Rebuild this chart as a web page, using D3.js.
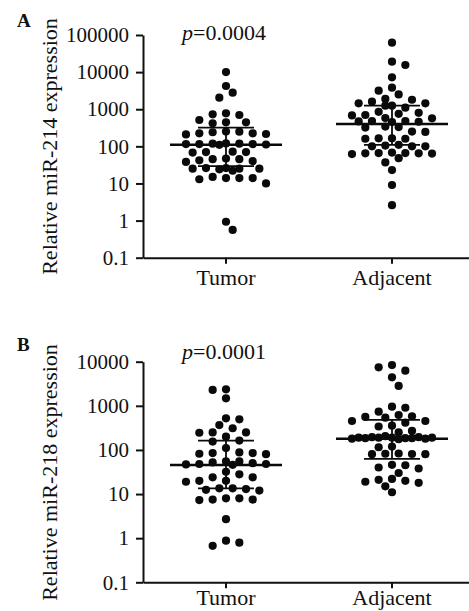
<!DOCTYPE html>
<html>
<head>
<meta charset="utf-8">
<script src="https://cdn.jsdelivr.net/npm/d3@7/dist/d3.min.js"></script>
<style>
  html, body { margin: 0; padding: 0; background: #fff; }
  svg { display: block; }
  text { font-family: "Liberation Serif", "Times New Roman", serif; fill: #111; }
</style>
</head>
<body>
<svg id="chart" width="469" height="611"></svg>
<script>
// ---------------- data ----------------
const categories = ["Tumor", "Adjacent"];

const tumorA = [10000, 4230, 2790, 2050, 778, 731, 700, 513, 445, 445, 418,
  250, 240, 225, 215, 210, 225, 248, 120, 118, 115, 115, 112, 115, 110, 118,
  72, 70, 68, 70, 45, 47, 42, 45, 40, 38, 26, 25, 25, 24, 25, 26, 22,
  14, 15, 14, 13, 14, 10, 0.93, 0.56];
const adjacentA = [62000, 19100, 15550, 7250, 3800, 3160, 2500, 1900, 1800, 1600,
  1440, 1440, 1250, 1250, 1100, 850, 800, 750, 700, 680, 580, 570, 480, 480,
  470, 460, 450, 340, 330, 320, 250, 245, 165, 165, 160, 160, 110, 105, 100,
  100, 100, 68, 66, 65, 65, 64, 62, 66, 48, 37, 23, 9.1, 2.6];

const tumorB = [2370, 2290, 1480, 520, 495, 367, 310, 250, 245, 250, 200, 155,
  163, 110, 88, 85, 82, 80, 85, 55, 52, 48, 50, 47, 48, 46, 55, 32, 24, 20,
  19, 20, 24, 28, 13.5, 13, 12.5, 13.5, 12, 8, 7.5, 7.3, 7.5, 8, 2.7, 0.88,
  0.79, 0.67];
const adjacentB = [8400, 7470, 6250, 4430, 2820, 955, 905, 735, 620, 580, 540,
  560, 453, 453, 415, 355, 340, 270, 250, 205, 195, 190, 190, 185, 180, 190,
  175, 185, 195, 180, 190, 185, 119, 115, 83, 82, 80, 81, 80, 46, 45, 40, 38,
  30, 21, 22, 20, 19, 18, 15, 11];

const mediansA = [110, 400];
const q1A = [29.5, 109];
const q3A = [318, 1250];
const mediansB = [45.6, 180];
const q1B = [13.5, 63];
const q3B = [162, 480];

const tickValuesA = [0.1, 1, 10, 100, 1000, 10000, 100000];
const tickLabelsA = ["0.1", "1", "10", "100", "1000", "10000", "100000"];
const tickValuesB = [0.1, 1, 10, 100, 1000, 10000];
const tickLabelsB = ["0.1", "1", "10", "100", "1000", "10000"];

const panelLetters = ["A", "B"];
const yTitles = ["Relative miR-214 expression", "Relative miR-218 expression"];
const pValues = ["0.0004", "0.0001"];

// ---------------- layout ----------------
const svg = d3.select("#chart");
const panels = [
  { letter: panelLetters[0], title: yTitles[0], p: pValues[0],
    series: [tumorA, adjacentA], med: mediansA, q1: q1A, q3: q3A,
    ticks: tickValuesA, labels: tickLabelsA,
    top: 35, bottom: 257.7, letterY: 27, pY: 40, labelY: 285, titleY: 146.5 },
  { letter: panelLetters[1], title: yTitles[1], p: pValues[1],
    series: [tumorB, adjacentB], med: mediansB, q1: q1B, q3: q3B,
    ticks: tickValuesB, labels: tickLabelsB,
    top: 361.7, bottom: 582.3, letterY: 351, pY: 359, labelY: 605, titleY: 472.5 }
];

const axisX = 143;
const x = d3.scaleBand().domain(categories).range([axisX, 475]).padding(0);
const R = 4.1;

function swarm(values, y, cx) {
  const pts = values.map(v => ({ v, y: y(v) })).sort((a, b) => a.y - b.y);
  const placed = [];
  const h = 6.67, maxK = 6;
  const thresholds = [8.9, 6.6, 4.5, 0];
  pts.forEach((p, i) => {
    const sign = i % 2 === 0 ? 1 : -1;
    let found = null;
    for (const minD of thresholds) {
      for (let k = 0; k <= maxK && found === null; k++) {
        const cands = k === 0 ? [0] : [sign * k * h, -sign * k * h];
        for (const off of cands) {
          const coll = placed.some(q => Math.hypot(q.off - off, q.y - p.y) < minD);
          if (!coll) { found = off; break; }
        }
      }
      if (found !== null) break;
    }
    p.off = found === null ? 0 : found;
    placed.push(p);
  });
  return pts.map(p => ({ x: cx + p.off, y: p.y }));
}

panels.forEach(P => {
  const g = svg.append("g");
  const y = d3.scaleLog().domain([0.1, P.ticks[P.ticks.length - 1]]).range([P.bottom, P.top]);

  // y axis
  const yAxis = d3.axisLeft(y).tickValues(P.ticks)
    .tickFormat((d, i) => P.labels[i]).tickSize(7).tickSizeOuter(0).tickPadding(7);
  const ya = g.append("g").attr("transform", `translate(${axisX},0)`).call(yAxis);
  ya.selectAll("path, line").attr("stroke", "#111").attr("stroke-width", 2);
  ya.selectAll("text").attr("font-size", 21).attr("fill", "#111")
    .attr("font-family", "Liberation Serif, serif");

  // x axis
  const xAxis = d3.axisBottom(x).tickSize(6).tickSizeOuter(0).tickPadding(9);
  const xa = g.append("g").attr("transform", `translate(0,${P.bottom})`).call(xAxis);
  xa.selectAll("path, line").attr("stroke", "#111").attr("stroke-width", 2);
  xa.selectAll("text").remove();
  categories.forEach(c => {
    g.append("text").attr("x", x(c) + x.bandwidth() / 2).attr("y", P.labelY)
      .attr("text-anchor", "middle").attr("font-size", 22).text(c);
  });

  // dots
  P.series.forEach((vals, ci) => {
    const cx = x(categories[ci]) + x.bandwidth() / 2;
    const pts = swarm(vals, y, cx);
    g.append("g").selectAll("circle").data(pts).join("circle")
      .attr("cx", d => d.x).attr("cy", d => d.y).attr("r", R).attr("fill", "#0a0a0a");

    // median and IQR
    const m = y(P.med[ci]), lo = y(P.q1[ci]), hi = y(P.q3[ci]);
    g.append("line").attr("x1", cx - 56).attr("x2", cx + 56).attr("y1", m).attr("y2", m)
      .attr("stroke", "#0a0a0a").attr("stroke-width", 2.4);
    g.append("line").attr("x1", cx - 28).attr("x2", cx + 28).attr("y1", hi).attr("y2", hi)
      .attr("stroke", "#0a0a0a").attr("stroke-width", 1.8);
    g.append("line").attr("x1", cx - 28).attr("x2", cx + 28).attr("y1", lo).attr("y2", lo)
      .attr("stroke", "#0a0a0a").attr("stroke-width", 1.8);
    g.append("line").attr("x1", cx).attr("x2", cx).attr("y1", hi).attr("y2", lo)
      .attr("stroke", "#0a0a0a").attr("stroke-width", 1.8);
  });

  // p-value
  const pt = g.append("text").attr("x", x(categories[0]) + x.bandwidth() / 2 - 2)
    .attr("y", P.pY).attr("text-anchor", "middle").attr("font-size", 22);
  pt.append("tspan").attr("font-style", "italic").text("p");
  pt.append("tspan").text("=" + P.p);

  // panel letter
  g.append("text").attr("x", 17).attr("y", P.letterY).attr("font-size", 19)
    .attr("font-weight", "bold").text(P.letter);

  // y title
  g.append("text").attr("transform", `translate(57,${P.titleY}) rotate(-90)`)
    .attr("text-anchor", "middle").attr("font-size", 22).text(P.title);
});
</script>
</body>
</html>
